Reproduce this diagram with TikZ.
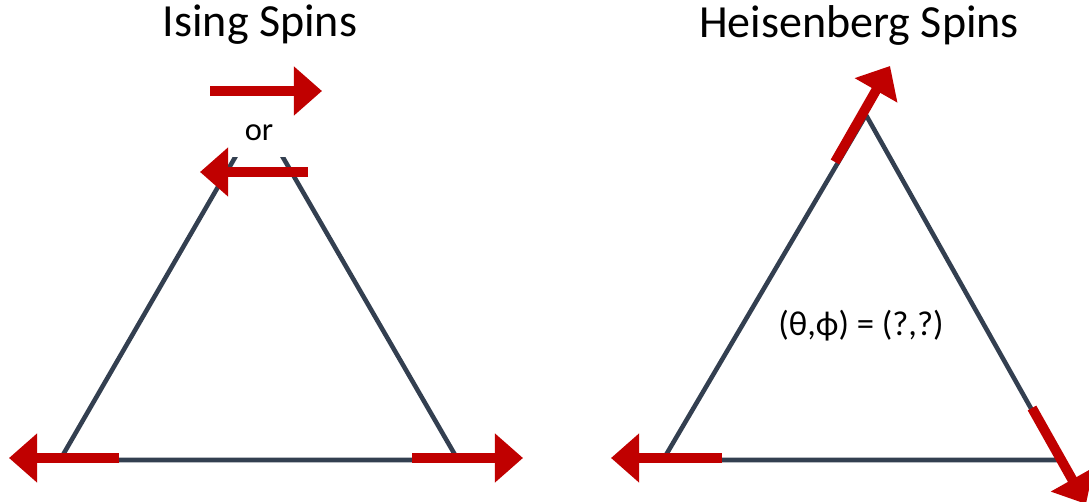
\documentclass[tikz,border=0pt]{standalone}
\usepackage{fontspec}
\setmainfont{Carlito}
\usetikzlibrary{arrows.meta}
\definecolor{spinred}{HTML}{C00000}
\definecolor{slate}{HTML}{333F50}

\begin{document}
\begin{tikzpicture}[
    x=0.02cm, y=-0.02cm,
    title/.style={font=\fontsize{26.2}{31}\selectfont},
    label/.style={font=\fontsize{19.7}{24}\selectfont},
    lattice/.style={draw=slate, line width=2.6pt, line join=round},
    spin/.style={draw=spinred, line width=5.6pt, -{Triangle[length=16pt,width=27pt]}}
]
    \useasboundingbox (0,0) rectangle (1089,502);

    % Titles
    \node[title] (isingT) at (260,25) {Ising Spins};
    \node[title] (heisT) at (859,25) {Heisenberg Spins};

    % Ising lattice
    \coordinate (iL) at (60,460);
    \coordinate (iR) at (458,460);
    \coordinate (iT) at (259,116);
    \draw[lattice] (iL) -- (iR) -- (iT) -- cycle;

    % Heisenberg lattice
    \coordinate (hL) at (663,460);
    \coordinate (hR) at (1060,460);
    \coordinate (hT) at (866,115);
    \draw[lattice] (hL) -- (hR) -- (hT) -- cycle;

    % or (hides the top corner)
    \node[fill=white, minimum width=34pt, minimum height=27pt, font=\fontsize{18.5}{22}\selectfont] (or) at (259,133) {or};

    % Ising spins
    \coordinate (up1) at (210,91);   \coordinate (up1tip) at (322,91);
    \coordinate (up2) at (308,172);  \coordinate (up2tip) at (200,172);
    \coordinate (bl1) at (119,458);  \coordinate (bl1tip) at (9,458);
    \coordinate (br1) at (412,458);  \coordinate (br1tip) at (523,458);
    \draw[spin] (up1) -- (up1tip);
    \draw[spin] (up2) -- (up2tip);
    \draw[spin] (bl1) -- (bl1tip);
    \draw[spin] (br1) -- (br1tip);

    % Heisenberg spins
    \coordinate (top2) at (835,162);  \coordinate (top2tip) at (890,66);
    \coordinate (bl2) at (722,458);   \coordinate (bl2tip) at (611,458);
    \coordinate (br2) at (1032,408);  \coordinate (br2tip) at (1086,504);
    \draw[spin] (top2) -- (top2tip);
    \draw[spin] (bl2) -- (bl2tip);
    \draw[spin] (br2) -- (br2tip);

    \node[label] (angles) at (861,326) {(θ,ϕ) = (?,?)};

\end{tikzpicture}
\end{document}
